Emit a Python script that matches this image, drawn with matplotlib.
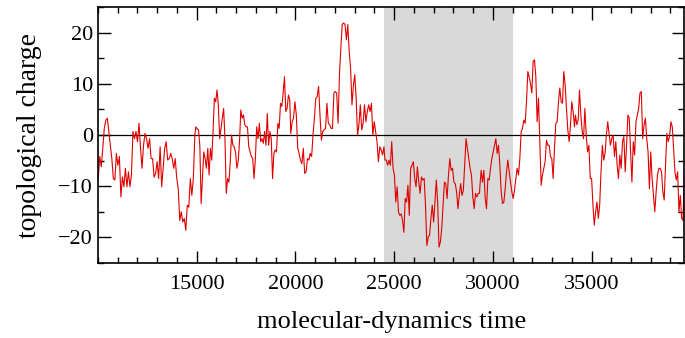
import numpy as np
import matplotlib
matplotlib.use('Agg')
import matplotlib.pyplot as plt

plt.rcParams['font.family'] = ['Liberation Serif', 'DejaVu Serif']
plt.rcParams['axes.unicode_minus'] = True

# topological charge, in six stretches of time
seg_start = [10015, 14959, 19766, 24537, 29344, 34187]
seg_end = [14908, 19715, 24487, 29329, 34136, 39702]

q1 = [-8.5, -4.2, -6.2, -2.6, 1.3, 2.9, 3.3, 0.7, -2.0, -4.6, -8.5, -8.8, -3.6, -5.9, -4.2,
      -12.1, -8.2, -10.1, -6.5, -10.1, -7.2, -10.1, -7.8, 0.7, -0.7, 0.7, -1.3, 2.3, -2.6, -6.5,
      -2.0, 0.3, -0.7, -2.6, -0.7, -4.6, -4.6, -8.2, -7.5, -5.2, -8.5, -2.3, -10.1, -6.5, -2.6,
      -1.3, -4.9, -4.6, -3.6, -4.6, -6.5, -4.6, -8.5, -10.5, -16.7, -15.0, -17.0, -16.3, -18.6,
      -13.7, -14.1, -8.5, -11.8, -8.5, 0.0]
q2 = [1.6, 1.2, 1.0, -2.0, -13.4, -8.5, -3.3, -4.6, -6.5, -2.6, -7.8, -2.6, -4.9, 0.7, 7.2,
      6.5, 8.8, 5.9, -0.7, 1.3, 3.3, 5.2, -0.7, -11.4, -8.5, -9.2, -5.2, 0.0, -2.0, -2.3, -3.3,
      -6.5, -5.2, -1.3, 4.9, 3.3, 3.9, 2.0, 1.6, 1.6, -2.3, -3.3, -4.2, -4.6, -8.5, -4.6, 1.6,
      -0.7, 2.3, -1.3, -0.7, -1.6, 0.7, -2.0, 4.2, -2.0, 0.7, -0.7, -8.5, -3.6, -2.9, -3.3, 2.3,
      1.3, 6.2, 5.6, 8.2, 11.4, 4.6, 5.2, 7.8, 6.9]
q3 = [0.3, 2.6, 3.3, 6.5, 3.9, -2.6, -3.6, -4.9, -5.6, -2.6, -7.5, -7.2, -4.6, -4.9, -3.6,
      -4.2, 0.0, 3.3, 7.2, 7.5, 9.5, 3.9, -1.0, 0.7, 1.0, 1.3, 6.2, 2.3, 2.0, 1.3, 1.3, 8.2, 8.5,
      8.2, 2.3, 11.8, 17.0, 21.6, 21.9, 21.6, 18.6, 21.6, 16.3, 13.1, 5.9, 9.5, 11.8, 7.2, 0.0,
      2.0, 5.9, 1.0, 2.3, 5.9, 2.6, 4.6, 5.9, 4.6, 6.2, 0.0, 2.6, 0.7, -1.3, -5.2, -2.3, -2.9,
      -3.9, -2.3]
q4 = [-4.9, -4.9, -5.9, -4.9, -5.9, -1.3, -6.5, -7.8, -13.1, -10.1, -15.0, -15.7, -15.4, -16.7,
      -19.0, -12.4, -13.1, -9.8, -15.7, -6.5, -5.9, -5.2, -8.5, -10.1, -6.2, -9.2, -11.4, -8.2,
      -8.8, -8.5, -13.7, -21.6, -19.9, -19.6, -16.3, -13.7, -17.0, -13.1, -8.8, -13.1, -21.9,
      -20.9, -18.3, -13.7, -9.2, -9.5, -12.4, -7.8, -4.6, -6.9, -6.5, -9.2, -9.5, -11.1, -14.4,
      -11.8, -9.5, -11.8, -10.8, -5.9, -0.7, -2.6, -4.6, -6.5, -7.8, -12.1, -14.4, -11.4, -12.1,
      -11.4, -11.4]
q5 = [-10.1, -6.9, -9.2, -6.9, -12.4, -14.4, -8.5, -8.8, -6.5, -4.6, -3.3, -2.0, -0.7, -3.6,
      -2.0, -5.9, -11.1, -13.4, -13.1, -10.5, -7.2, -4.9, -7.2, -9.2, -11.1, -12.4, -10.8, -8.5,
      -6.5, -7.8, -4.6, 0.7, 1.3, 2.9, 2.3, 6.5, 12.4, 11.4, 10.1, 8.2, 14.4, 14.7, 11.4, 2.6,
      7.2, -1.6, -9.8, -7.8, -6.5, -5.2, -1.0, -2.0, -2.0, -4.2, -4.6, -8.5, -2.6, 2.3, 2.6, 6.5,
      9.2, 6.5, 6.2, 12.4, 9.8, 5.2, 1.0, -1.3, 2.0, 6.5, 4.6, 1.6]
q6 = [3.9, 2.0, 2.9, 8.8, 3.9, 0.7, -0.7, 5.2, 0.0, -3.3, -2.0, -8.5, -8.5, -13.7, -17.6,
      -15.0, -13.1, -16.3, -13.7, -7.2, -2.0, -4.9, -3.6, 0.0, 2.6, 0.3, -2.0, -0.7, 0.0, -4.2,
      -1.3, -5.9, -8.5, -3.9, -6.5, -1.3, -0.3, -7.2, -2.0, 3.9, 3.3, -3.3, -9.2, -1.3, -3.9,
      2.6, 3.9, 5.2, 8.2, 8.5, -0.7, 2.0, 3.3, -0.7, -3.3, -10.5, -3.3, -8.5, -11.8, -15.0,
      -11.1, -7.8, -6.5, -6.5, -7.2, -11.1, -12.7, -5.9, 0.3, -1.3, -0.3, 2.6, 1.6, -2.6, -7.2,
      -8.8, -7.2, -15.0, -11.8, -16.3, -16.7, -6.9]

segments = [q1, q2, q3, q4, q5, q6]
shade_from, shade_to = 24500, 31000

time = np.concatenate([np.linspace(a, b, len(s)) for a, b, s in zip(seg_start, seg_end, segments)])
charge = np.concatenate(segments)

fig = plt.figure(figsize=(6.85, 3.38), dpi=100)
ax = fig.add_axes([0.143, 0.222, 0.856, 0.757])

ax.axvspan(shade_from, shade_to, color='#d9d9d9', lw=0, zorder=0)
ax.axhline(0, color='black', lw=0.9, zorder=1)
ax.plot(time, charge, color='#e00000', lw=0.8, zorder=2)

ax.set_xlim(10000, 39700)
ax.set_ylim(-25, 25)
ax.set_xticks([15000, 20000, 25000, 30000, 35000])
ax.set_xticks(np.arange(10000, 40000, 1000), minor=True)
ax.set_yticks([-20, -10, 0, 10, 20])
ax.set_yticks(np.arange(-25, 26, 5), minor=True)
ax.tick_params(which='both', direction='in', top=True, right=True, labelsize=16, width=1)
ax.tick_params(which='major', length=9)
ax.tick_params(which='minor', length=4.5)
ax.tick_params(axis='x', pad=9)
for s in ax.spines.values():
    s.set_linewidth(1.2)

ax.set_xlabel('molecular-dynamics time', fontsize=19, labelpad=12)
ax.set_ylabel('topological charge', fontsize=20, labelpad=12)

fig.savefig('out.png', dpi=100)
